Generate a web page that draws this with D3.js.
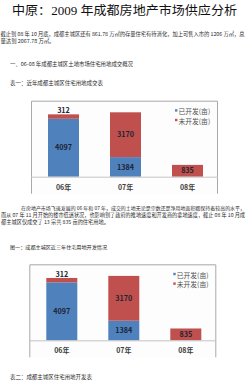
<!DOCTYPE html>
<html>
<head>
<meta charset="utf-8">
<script src="https://cdn.jsdelivr.net/npm/d3@7"></script>
<style>
  body { margin: 0; background: #fff; }
  svg { display: block; }
  .body-text { font-family: "Noto Sans CJK SC", sans-serif; fill: #2a2a2a; }
  .chart-text { font-family: "Noto Sans CJK SC", "DejaVu Sans", sans-serif; }
</style>
</head>
<body>
<svg></svg>
<script>
const width = 249;
const height = 390;

/* chart data */
const years = ['06年', '07年', '08年'];
const developed = [4097, 1384, 0];
const undeveloped = [312, 3170, 835];
const seriesNames = ['已开发(亩)', '未开发(亩)'];
const colors = ['#4f81bd', '#c0504d'];

/* page text lines: [text, x, y, textLength] */
const pageLines = [
  ['截止到 08 年 10 月底，成都主城区还有 861.78 万㎡的存量住宅有待消化，加上可售入市的 1206 万㎡，总', 0.5, 36, 244],
  ['量达到 2067.78 万㎡。', 0.5, 43, 54],
  ['一、06-08 年成都主城区土地市场住宅用地成交概况', 10, 66, 123],
  ['表一：近年成都主城区住宅用地成交表', 10, 85, 93],
  ['在房地产市场飞速发展的 06 年和 07 年，成交的土地无论是宗数还是净用地面积都保持着较高的水平，', 21, 210, 224],
  ['而从 07 年 11 月开始的楼市低迷状况，也影响到了政府的推地速度和开发商的拿地速度，截止 08 年 10 月成', 1, 217, 244],
  ['都主城区仅成交了 13 宗共 835 亩的住宅用地。', 1, 224, 108],
  ['图一：成都主城区近三年住宅用地开发情况', 10, 248.5, 97],
  ['表二：成都主城区住宅用地开发表', 10, 378.5, 82]
];

const svg = d3.select('svg')
  .attr('width', width)
  .attr('height', height);

/* title */
svg.append('text')
  .attr('x', 12)
  .attr('y', 15)
  .attr('textLength', 225)
  .attr('lengthAdjust', 'spacingAndGlyphs')
  .style('font-family', '"Liberation Serif", "Noto Sans CJK SC", serif')
  .style('font-size', '12.5px')
  .style('fill', '#111')
  .text('中原：2009 年成都房地产市场供应分析');

/* body text: shrink the font when the line is naturally too long, then stretch to fit */
svg.selectAll('text.body-text')
  .data(pageLines)
  .enter()
  .append('text')
    .classed('body-text', true)
    .attr('x', d => d[1])
    .attr('y', d => d[2])
    .style('font-size', '5.4px')
    .text(d => d[0])
    .each(function(d) {
      const natural = this.getComputedTextLength();
      if (natural > d[3]) {
        d3.select(this).style('font-size', (5.4 * d[3] / natural) + 'px');
      }
      d3.select(this)
        .attr('textLength', d[3])
        .attr('lengthAdjust', 'spacingAndGlyphs');
    });

const table = years.map((y, i) => ({ year: y, developed: developed[i], undeveloped: undeveloped[i] }));
const stacked = d3.stack().keys(['developed', 'undeveloped'])(table);

function drawChart(left, top) {
  const w = 187, h = 93, base = 76;
  const g = svg.append('g')
    .attr('transform', `translate(${left}, ${top})`);

  g.append('rect')
    .attr('width', w)
    .attr('height', h)
    .attr('fill', '#fdfdfd');

  /* frame: top, left, right */
  g.append('path')
    .attr('d', `M0.5,${h}V0.5H${w - 0.5}V${h}`)
    .attr('fill', 'none')
    .attr('stroke', '#a9a9a9');

  const x = d3.scaleBand()
    .domain(years)
    .range([1.5, 187.5])
    .paddingInner(0.5)
    .paddingOuter(0.25);

  const y = d3.scaleLinear()
    .domain([0, 5000])
    .range([base, base - 5000 * 0.01414]);

  const layers = g.selectAll('g.layer')
    .data(stacked)
    .enter()
    .append('g')
      .classed('layer', true)
      .attr('fill', (d, i) => colors[i]);

  layers.selectAll('rect')
    .data(d => d.filter(s => s[1] - s[0] > 0))
    .enter()
    .append('rect')
      .attr('x', d => x(d.data.year))
      .attr('y', d => y(d[1]))
      .attr('width', x.bandwidth())
      .attr('height', d => y(d[0]) - y(d[1]));

  /* value labels */
  layers.selectAll('text')
    .data(d => d.filter(s => s[1] - s[0] > 0))
    .enter()
    .append('text')
      .classed('chart-text', true)
      .attr('x', d => x(d.data.year) + x.bandwidth() / 2)
      .attr('y', d => {
        const hh = y(d[0]) - y(d[1]);
        return hh < 8 ? y(d[1]) - 1 : (y(d[0]) + y(d[1])) / 2 + 2.6;
      })
      .attr('text-anchor', 'middle')
      .style('font-size', '7.2px')
      .style('font-weight', 'bold')
      .style('fill', '#1c2433')
      .text(d => d[1] - d[0]);

  /* category axis */
  const axis = g.append('g')
    .attr('transform', `translate(0, ${base})`)
    .call(d3.axisBottom(x).tickSize(0).tickPadding(8));
  axis.select('.domain')
    .attr('d', `M0,0.5H${w}`)
    .attr('stroke', '#c4c4c4');
  axis.selectAll('text')
    .classed('chart-text', true)
    .style('font-size', '7px')
    .style('font-weight', 'bold')
    .style('fill', '#404040');

  /* legend */
  const legend = g.selectAll('g.legend')
    .data(seriesNames)
    .enter()
    .append('g')
      .classed('legend', true)
      .attr('transform', (d, i) => `translate(144, ${11 + i * 9.6})`);
  legend.append('rect')
    .attr('x', 0)
    .attr('y', -2.5)
    .attr('width', 2.4)
    .attr('height', 2.4)
    .attr('fill', (d, i) => colors[i]);
  legend.append('text')
    .classed('chart-text', true)
    .attr('x', 3.4)
    .attr('y', 2.4)
    .style('font-size', '6.8px')
    .style('fill', '#505050')
    .text(d => d);
}

drawChart(31, 100.7);
drawChart(29.3, 264.3);
</script>
</body>
</html>
